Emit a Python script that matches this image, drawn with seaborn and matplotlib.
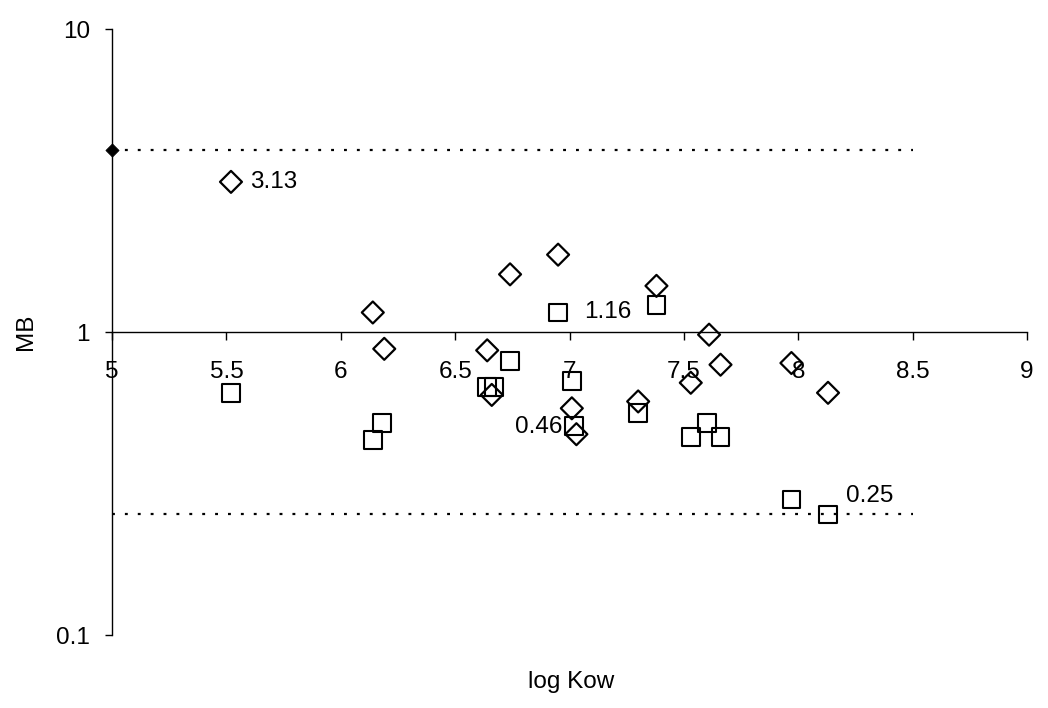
import matplotlib
matplotlib.use("Agg")
import pandas as pd
import matplotlib.pyplot as plt
from matplotlib.ticker import FixedLocator, NullLocator, FixedFormatter
import seaborn as sns

# Values
diamond_x = [5.52, 6.14, 6.19, 6.64, 6.66, 6.74, 6.95, 7.01, 7.03, 7.30, 7.38, 7.53, 7.61, 7.66, 7.97, 8.13]
diamond_y = [3.13, 1.16, 0.88, 0.87, 0.62, 1.55, 1.80, 0.56, 0.46, 0.59, 1.42, 0.68, 0.98, 0.78, 0.79, 0.63]
square_x = [5.52, 6.14, 6.18, 6.64, 6.67, 6.74, 6.95, 7.01, 7.02, 7.30, 7.38, 7.53, 7.60, 7.66, 7.97, 8.13]
square_y = [0.63, 0.44, 0.50, 0.66, 0.66, 0.80, 1.16, 0.69, 0.49, 0.54, 1.23, 0.45, 0.50, 0.45, 0.28, 0.25]

limit_x = [5, 8.5]
upper_limit = [4, 4]
lower_limit = [0.25, 0.25]
ref_x = [5]
ref_y = [4]

x_ticks = [5, 5.5, 6, 6.5, 7, 7.5, 8, 8.5, 9]
x_tick_labels = ["5", "5.5", "6", "6.5", "7", "7.5", "8", "8.5", "9"]
y_ticks = [0.1, 1, 10]
y_tick_labels = ["0.1", "1", "10"]

diamonds = pd.DataFrame({"logKow": diamond_x, "MB": diamond_y})
squares = pd.DataFrame({"logKow": square_x, "MB": square_y})
limits = pd.DataFrame({"x": limit_x, "upper": upper_limit, "lower": lower_limit})

sns.set_theme(style="white")
plt.rcParams["font.family"] = ["Liberation Sans", "DejaVu Sans"]
plt.rcParams["text.color"] = "black"
plt.rcParams["axes.labelcolor"] = "black"

fig = plt.figure(figsize=(10.48, 7.08), dpi=100)
ax = fig.add_axes([0.1069, 0.1031, 0.8731, 0.8559])

# dotted limit lines
dots = (0, (1.3, 4.5))
sns.lineplot(data=limits, x="x", y="upper", ax=ax, color="black", lw=1.6, linestyle=dots)
sns.lineplot(data=limits, x="x", y="lower", ax=ax, color="black", lw=1.6, linestyle=dots)
sns.scatterplot(x=ref_x, y=ref_y, ax=ax, marker="D", s=45, color="black",
                edgecolor="black", zorder=5, clip_on=False)

sns.scatterplot(data=diamonds, x="logKow", y="MB", ax=ax, marker="D", s=125,
                color="black", facecolor="none", edgecolor="black", linewidth=1.6, zorder=4)
sns.scatterplot(data=squares, x="logKow", y="MB", ax=ax, marker="s", s=165,
                color="black", facecolor="none", edgecolor="black", linewidth=1.5, zorder=4)

# value labels
lab_kw = dict(textcoords="offset points", fontsize=17.5, va="center", color="black")
ax.annotate("3.13", (diamond_x[0], diamond_y[0]), xytext=(14, 0), ha="left", **lab_kw)
ax.annotate("1.16", (square_x[6], square_y[6]), xytext=(19, 0), ha="left", **lab_kw)
ax.annotate("0.46", (diamond_x[8], diamond_y[8]), xytext=(-10, 5), ha="right", **lab_kw)
ax.annotate("0.25", (square_x[15], square_y[15]), xytext=(13, 13), ha="left", **lab_kw)

ax.set_yscale("log")
ax.set_xlim(5, 9)
ax.set_ylim(0.1, 10)
ax.yaxis.set_major_locator(FixedLocator(y_ticks))
ax.yaxis.set_major_formatter(FixedFormatter(y_tick_labels))
ax.yaxis.set_minor_locator(NullLocator())
ax.xaxis.set_major_locator(FixedLocator(x_ticks))
ax.xaxis.set_major_formatter(FixedFormatter(x_tick_labels))

ax.spines["top"].set_visible(False)
ax.spines["right"].set_visible(False)
ax.spines["bottom"].set_position(("data", 1))
for s in ["left", "bottom"]:
    ax.spines[s].set_color("black")
    ax.spines[s].set_linewidth(1.0)

ax.tick_params(axis="x", bottom=True, direction="out", length=6, width=1, pad=15,
               labelsize=17.5, colors="black")
ax.tick_params(axis="y", left=True, direction="out", length=5, width=1, pad=11,
               labelsize=17.5, colors="black")

ax.set_xlabel("log Kow", fontsize=17.5)
ax.set_ylabel("MB", fontsize=17.5)
ax.xaxis.set_label_coords(0.502, -0.078)
ax.xaxis.label.set_va("center")
ax.yaxis.set_label_coords(-0.094, 0.5)
ax.yaxis.label.set_va("center")

fig.savefig("out.png", dpi=100)
